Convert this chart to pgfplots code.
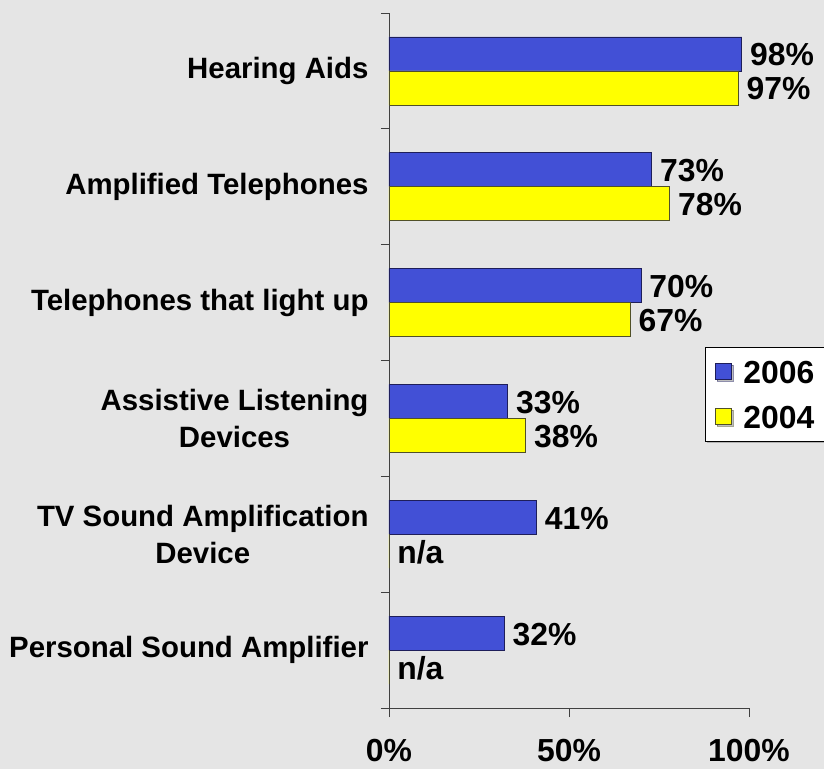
\documentclass[border=0pt]{standalone}
\usepackage{pgfplots}
\pgfplotsset{compat=1.18}
\usepackage{fontspec}
\setmainfont{Liberation Sans}
\usetikzlibrary{shadows}
\definecolor{bgcol}{RGB}{229,229,229}
\definecolor{barblue}{RGB}{66,80,214}
\definecolor{bluedge}{RGB}{30,30,90}
\definecolor{baryellow}{RGB}{255,255,0}
\definecolor{yeledge}{RGB}{80,80,40}
\pgfplotsset{sqlegend/.style={legend image code/.code={\draw[##1, line width=1bp] (0bp,-8bp) rectangle (16bp,8bp);}}}
\begin{document}
\begin{tikzpicture}
\fill[bgcol] (-389bp,-61bp) rectangle (435bp,708bp);
\useasboundingbox (-389bp,-61bp) rectangle (435bp,708bp);
\begin{axis}[
  at={(0,0)}, anchor=south west,
  scale only axis,
  width=360bp, height=695bp,
  xmin=0, xmax=100,
  ymin=-0.5, ymax=5.5,
  axis lines*=left,
  axis line style={black!75, line width=0.8bp},
  tick align=outside,
  xtick={0,50,100},
  xticklabels={0\%,50\%,100\%},
  major tick length=9bp,
  minor tick length=8bp,
  x tick style={black!75, line width=0.8bp},
  ytick={0,1,2,3,4,5},
  yticklabels={{Personal Sound Amplifier},{TV Sound Amplification\\Device},{Assistive Listening\\Devices},{Telephones that light up},{Amplified Telephones},{Hearing Aids}},
  minor ytick={-0.5,0.5,1.5,2.5,3.5,4.5,5.5},
  major y tick style={draw=none},
  minor y tick style={black!75, line width=0.8bp},
  xticklabel style={font=\fontsize{32}{38}\selectfont\bfseries, yshift=-19bp},
  yticklabel style={font=\fontsize{29.5}{37}\selectfont\bfseries, align=center, xshift=-8bp},
  clip=false,
  legend style={at={(axis description cs:0.878,0.5194)}, anchor=north west,
    fill=white, draw=black, line width=0.8bp, inner sep=10bp,
    font=\fontsize{32}{38}\selectfont\bfseries,
    nodes={inner sep=3bp, text height=23bp, text depth=0bp},
    row sep=16bp, column sep=8bp,
    drop shadow={shadow xshift=1.5bp, shadow yshift=-1.5bp, fill=black!50}},
  legend cell align=left,
  nodes near coords,
  point meta=explicit symbolic,
  every node near coord/.append style={font=\fontsize{32}{36}\selectfont\bfseries, anchor=west, inner sep=8bp},
]
\addplot[xbar, bar width=34bp, bar shift=17bp, fill=barblue, draw=bluedge, line width=0.8bp, sqlegend,
  every node near coord/.append style={yshift=16bp}]
  coordinates {(98,5) [98\%] (73,4) [73\%] (70,3) [70\%] (33,2) [33\%] (41,1) [41\%] (32,0) [32\%]};
\addlegendentry{2006}
\addplot[xbar, bar width=34bp, bar shift=-17bp, fill=baryellow, draw=yeledge, line width=0.8bp, sqlegend,
  every node near coord/.append style={yshift=-18bp}]
  coordinates {(97,5) [97\%] (78,4) [78\%] (67,3) [67\%] (38,2) [38\%] (0,1) [n/a] (0,0) [n/a]};
\addlegendentry{2004}
\end{axis}
\end{tikzpicture}
\end{document}
